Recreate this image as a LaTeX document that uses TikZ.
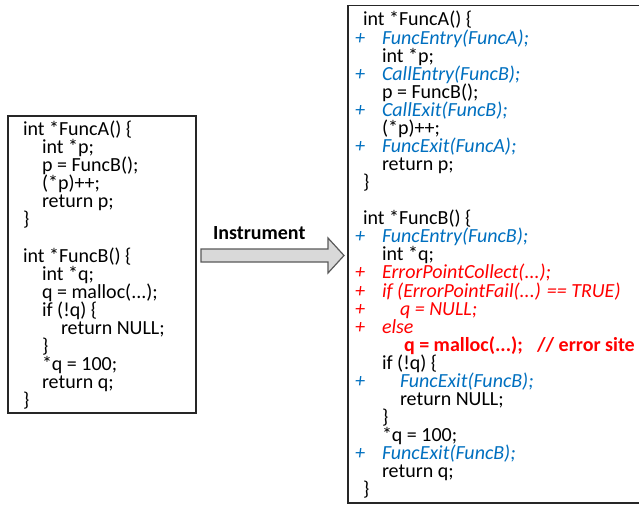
\documentclass[tikz,border=0pt]{standalone}
\usepackage{fontspec}
\setmainfont{Carlito}
\definecolor{insblue}{RGB}{0,112,192}
\definecolor{insred}{RGB}{255,0,0}
\definecolor{arrowfill}{RGB}{217,217,217}
\definecolor{arrowdraw}{RGB}{90,90,90}
\tikzset{
  codeline/.style={anchor=base west,inner sep=0pt,outer sep=0pt,font=\fontsize{20bp}{18bp}\selectfont},
  bluel/.style={codeline,text=insblue,font=\fontsize{20bp}{18bp}\selectfont\itshape},
  redl/.style={codeline,text=insred,font=\fontsize{20bp}{18bp}\selectfont\itshape},
  redb/.style={codeline,text=insred,font=\fontsize{20bp}{18bp}\selectfont\bfseries},
  codebox/.style={draw=black!85,line width=1.3bp},
}
\begin{document}
\begin{tikzpicture}[x=1bp,y=-1bp]
\useasboundingbox (0,0) rectangle (639,506);
\clip (0,0) rectangle (639,506);
\fill[white] (0,0) rectangle (639,506);
% left box
\draw[codebox] (8,116) rectangle (196,413);
\def\L{136}
\node[codeline] (l0) at (23,\L+0*18) {int *FuncA() \{};
\node[codeline] (l1) at (42,\L+1*18) {int *p;};
\node[codeline] (l2) at (42,\L+2*18) {p = FuncB();};
\node[codeline] (l3) at (42,\L+3*18) {(*p)++;};
\node[codeline] (l4) at (42,\L+4*18) {return p;};
\node[codeline] (l5) at (23,\L+5*18) {\}};
\node[codeline] (l7) at (23,\L+7*18) {int *FuncB() \{};
\node[codeline] (l8) at (42,\L+8*18) {int *q;};
\node[codeline] (l9) at (42,\L+9*18) {q = malloc(...);};
\node[codeline] (l10) at (42,\L+10*18) {if (!q) \{};
\node[codeline] (l11) at (61,\L+11*18) {return NULL;};
\node[codeline] (l12) at (42,\L+12*18) {\}};
\node[codeline] (l13) at (42,\L+13*18) {*q = 100;};
\node[codeline] (l14) at (42,\L+14*18) {return q;};
\node[codeline] (l15) at (23,\L+15*18) {\}};
% arrow
\draw[fill=arrowfill,draw=arrowdraw,line width=1.2bp,line join=miter]
  (201,249) -- (328,249) -- (328,238) -- (344,255.5) -- (328,273) -- (328,262) -- (201,262) -- cycle;
\node[codeline,font=\fontsize{20bp}{18bp}\selectfont\bfseries] (instr) at (213,239.5) {Instrument};
% right box
\draw[codebox] (348,5.5) rectangle (660,503);
\def\R{26}
\def\S{18.07}
\node[codeline] (r0) at (363,\R+0*\S) {int *FuncA() \{};
\node[bluel] (p1) at (355,\R+1*\S) {+};
\node[bluel] (r1) at (382,\R+1*\S) {FuncEntry(FuncA);};
\node[codeline] (r2) at (382,\R+2*\S) {int *p;};
\node[bluel] (p3) at (355,\R+3*\S) {+};
\node[bluel] (r3) at (382,\R+3*\S) {CallEntry(FuncB);};
\node[codeline] (r4) at (382,\R+4*\S) {p = FuncB();};
\node[bluel] (p5) at (355,\R+5*\S) {+};
\node[bluel] (r5) at (382,\R+5*\S) {CallExit(FuncB);};
\node[codeline] (r6) at (382,\R+6*\S) {(*p)++;};
\node[bluel] (p7) at (355,\R+7*\S) {+};
\node[bluel] (r7) at (382,\R+7*\S) {FuncExit(FuncA);};
\node[codeline] (r8) at (382,\R+8*\S) {return p;};
\node[codeline] (r9) at (363,\R+9*\S) {\}};
\node[codeline] (r11) at (363,\R+11*\S) {int *FuncB() \{};
\node[bluel] (p12) at (355,\R+12*\S) {+};
\node[bluel] (r12) at (382,\R+12*\S) {FuncEntry(FuncB);};
\node[codeline] (r13) at (382,\R+13*\S) {int *q;};
\node[redl] (p14) at (355,\R+14*\S) {+};
\node[redl] (r14) at (382,\R+14*\S) {ErrorPointCollect(...);};
\node[redl] (p15) at (355,\R+15*\S) {+};
\node[redl] (r15) at (382,\R+15*\S) {if (ErrorPointFail(...) == TRUE)};
\node[redl] (p16) at (355,\R+16*\S) {+};
\node[redl] (r16) at (400,\R+16*\S) {q = NULL;};
\node[redl] (p17) at (355,\R+17*\S) {+};
\node[redl] (r17) at (382,\R+17*\S) {else};
\node[redb] (r18) at (404,\R+18*\S) {q = malloc(...);};
\node[redb] (r18c) at (537,\R+18*\S) {// error site};
\node[codeline] (r19) at (382,\R+19*\S) {if (!q) \{};
\node[bluel] (p20) at (355,\R+20*\S) {+};
\node[bluel] (r20) at (400,\R+20*\S) {FuncExit(FuncB);};
\node[codeline] (r21) at (400,\R+21*\S) {return NULL;};
\node[codeline] (r22) at (382,\R+22*\S) {\}};
\node[codeline] (r23) at (382,\R+23*\S) {*q = 100;};
\node[bluel] (p24) at (355,\R+24*\S) {+};
\node[bluel] (r24) at (382,\R+24*\S) {FuncExit(FuncB);};
\node[codeline] (r25) at (382,\R+25*\S) {return q;};
\node[codeline] (r26) at (363,\R+26*\S) {\}};
\end{tikzpicture}
\end{document}
